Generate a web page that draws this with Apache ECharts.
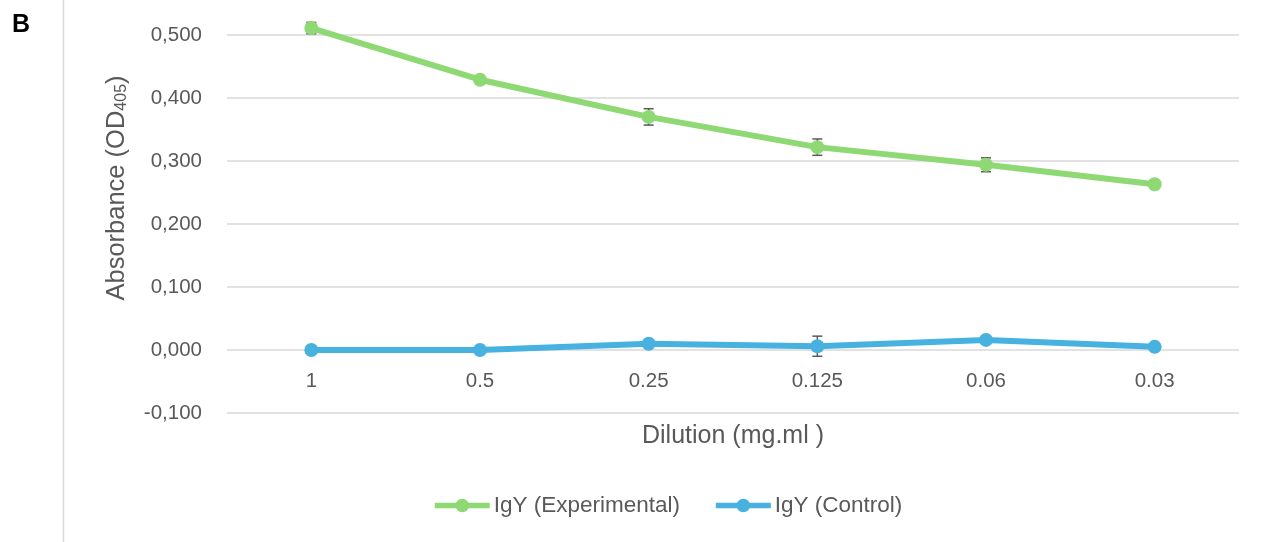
<!DOCTYPE html>
<html>
<head>
<meta charset="utf-8">
<script src="https://cdn.jsdelivr.net/npm/echarts@6/dist/echarts.min.js"></script>
<style>
  html, body { margin: 0; padding: 0; background: #ffffff; }
  #chart { width: 1264px; height: 542px; }
</style>
</head>
<body>
<div id="chart"></div>
<script>
// Dilution series (mg/ml)
const categories = ['1', '0.5', '0.25', '0.125', '0.06', '0.03'];

// Mean absorbance at 405 nm
const experimental = [0.511, 0.429, 0.370, 0.322, 0.294, 0.263];
const control = [0.000, 0.000, 0.010, 0.006, 0.016, 0.005];

// Standard deviations
const experimentalErr = [0.009, 0.003, 0.013, 0.013, 0.011, 0.003];
const controlErr = [0.002, 0.002, 0.002, 0.016, 0.002, 0.002];

// Y axis ticks
const yMin = -0.1, yMax = 0.5, yStep = 0.1;

const GREEN = '#8ED973';
const BLUE = '#47B1E0';
const TEXT = '#595959';
const FONT = '"Liberation Sans", Arial, sans-serif';

function errorData(means, errs) {
  return means.map((m, i) => [i, m - errs[i], m + errs[i]]);
}

function renderErrorBar(params, api) {
  const x = api.value(0);
  const lo = api.coord([x, api.value(1)]);
  const hi = api.coord([x, api.value(2)]);
  const half = 5;
  const style = { stroke: '#595959', lineWidth: 1.5 };
  return {
    type: 'group',
    children: [
      { type: 'line', shape: { x1: lo[0], y1: lo[1], x2: hi[0], y2: hi[1] }, style },
      { type: 'line', shape: { x1: hi[0] - half, y1: hi[1], x2: hi[0] + half, y2: hi[1] }, style },
      { type: 'line', shape: { x1: lo[0] - half, y1: lo[1], x2: lo[0] + half, y2: lo[1] }, style }
    ]
  };
}

const chart = echarts.init(document.getElementById('chart'), null, { renderer: 'canvas' });

chart.setOption({
  animation: false,
  backgroundColor: '#ffffff',
  textStyle: { fontFamily: FONT },
  grid: { left: 227, right: 25, top: 35, bottom: 129 },
  legend: {
    top: 489,
    left: 427,
    itemWidth: 55,
    itemHeight: 17,
    itemGap: 33,
    lineStyle: { width: 5.5 },
    textStyle: { color: TEXT, fontSize: 22.5, fontFamily: FONT, padding: [0, 0, 0, -1] },
    data: ['IgY (Experimental)', 'IgY (Control)']
  },
  xAxis: {
    type: 'category',
    data: categories,
    boundaryGap: true,
    offset: -63,
    axisLine: { show: false, onZero: false },
    axisTick: { show: false },
    axisLabel: { color: TEXT, fontSize: 20.5, margin: 21, fontFamily: FONT },
    name: 'Dilution (mg.ml )',
    nameLocation: 'middle',
    nameGap: 74,
    nameTextStyle: { color: TEXT, fontSize: 25, fontFamily: FONT }
  },
  yAxis: {
    type: 'value',
    min: yMin,
    max: yMax,
    interval: yStep,
    axisLine: { show: false },
    axisTick: { show: false },
    splitLine: { lineStyle: { color: '#d9d9d9', width: 1.5 } },
    axisLabel: {
      color: TEXT,
      fontSize: 20.5,
      margin: 25,
      fontFamily: FONT,
      formatter: v => v.toFixed(3).replace('.', ',')
    }
  },
  graphic: [
    {
      type: 'text',
      left: 12,
      top: 13,
      style: { text: 'B', fontSize: 25, fontWeight: 'bold', fill: '#000000', fontFamily: FONT }
    },
    {
      type: 'line',
      shape: { x1: 63.5, y1: 0, x2: 63.5, y2: 542 },
      style: { stroke: '#d9d9d9', lineWidth: 1.5 }
    },
    {
      type: 'text',
      x: 117,
      y: 188,
      rotation: Math.PI / 2,
      style: {
        text: '{a|Absorbance (OD}{s|405}{a|)}',
        align: 'center',
        verticalAlign: 'middle',
        rich: {
          a: { fontSize: 25.5, fill: TEXT, fontFamily: FONT },
          s: { fontSize: 16, fill: TEXT, fontFamily: FONT, padding: [9, 0, 0, 0] }
        }
      }
    }
  ],
  series: [
    {
      name: 'err-exp',
      type: 'custom',
      renderItem: renderErrorBar,
      data: errorData(experimental, experimentalErr),
      clip: false,
      z: 1,
      silent: true
    },
    {
      name: 'err-ctrl',
      type: 'custom',
      renderItem: renderErrorBar,
      data: errorData(control, controlErr),
      clip: false,
      z: 1,
      silent: true
    },
    {
      name: 'IgY (Experimental)',
      type: 'line',
      data: experimental,
      color: GREEN,
      symbol: 'circle',
      symbolSize: 14,
      clip: false,
      lineStyle: { width: 6, color: GREEN },
      itemStyle: { color: GREEN },
      z: 3
    },
    {
      name: 'IgY (Control)',
      type: 'line',
      data: control,
      color: BLUE,
      symbol: 'circle',
      symbolSize: 14,
      clip: false,
      lineStyle: { width: 6, color: BLUE },
      itemStyle: { color: BLUE },
      z: 3
    }
  ]
});
</script>
</body>
</html>
